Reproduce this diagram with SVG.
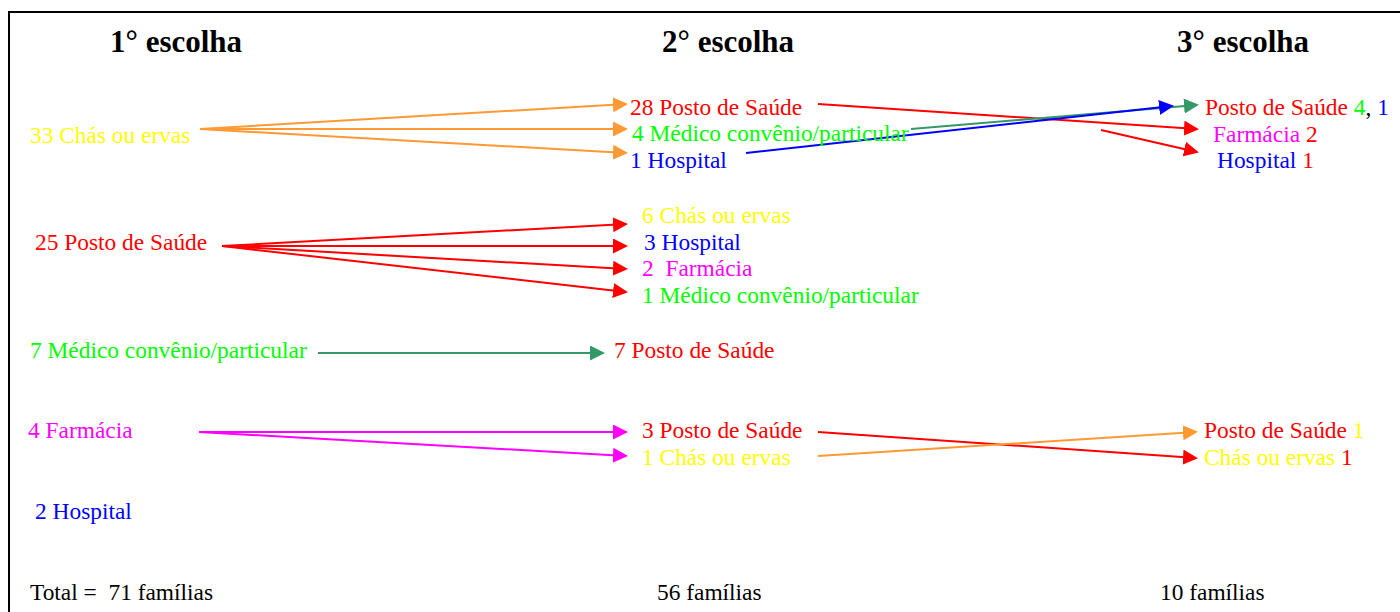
<svg xmlns="http://www.w3.org/2000/svg" width="1400" height="612" viewBox="0 0 1400 612">
<style>
text{font-family:"Liberation Serif","Times New Roman",serif;font-size:23.4px;white-space:pre}
.h{font-size:31px;font-weight:bold;fill:#000}
.k{fill:#000}.r{fill:#FF0000}.g{fill:#00FF00}.b{fill:#0000FF}.m{fill:#FF00FF}.y{fill:#FFFF00}
.c{fill:none;stroke-width:2}
.co{stroke:#FF9933}.cr{stroke:#FF0000}.cb{stroke:#0000FF}.cg{stroke:#339966}.cm{stroke:#FF00FF}
</style>
<defs>
<marker id="ao" markerUnits="userSpaceOnUse" markerWidth="15" markerHeight="15" refX="13" refY="7.5" orient="auto"><path d="M0,0 L15,7.5 L0,15 z" fill="#FF9933"/></marker>
<marker id="ar" markerUnits="userSpaceOnUse" markerWidth="15" markerHeight="15" refX="13" refY="7.5" orient="auto"><path d="M0,0 L15,7.5 L0,15 z" fill="#FF0000"/></marker>
<marker id="ab" markerUnits="userSpaceOnUse" markerWidth="15" markerHeight="15" refX="13" refY="7.5" orient="auto"><path d="M0,0 L15,7.5 L0,15 z" fill="#0000FF"/></marker>
<marker id="ag" markerUnits="userSpaceOnUse" markerWidth="15" markerHeight="15" refX="13" refY="7.5" orient="auto"><path d="M0,0 L15,7.5 L0,15 z" fill="#339966"/></marker>
<marker id="am" markerUnits="userSpaceOnUse" markerWidth="15" markerHeight="15" refX="13" refY="7.5" orient="auto"><path d="M0,0 L15,7.5 L0,15 z" fill="#FF00FF"/></marker>
</defs>
<rect width="1400" height="612" fill="#fff"/>
<path d="M9,612 L9,12 L1400,12" fill="none" stroke="#000" stroke-width="2"/>
<g id="headings">
<text class="h" x="110" y="52">1° escolha</text>
<text class="h" x="662" y="52">2° escolha</text>
<text class="h" x="1177" y="52">3° escolha</text>
</g>
<g id="connectors">
<line class="c co" x1="200" y1="129" x2="626" y2="104" marker-end="url(#ao)"/>
<line class="c co" x1="200" y1="129" x2="626" y2="129" marker-end="url(#ao)"/>
<line class="c co" x1="200" y1="129" x2="626" y2="153" marker-end="url(#ao)"/>
<line class="c cr" x1="222" y1="246" x2="626" y2="224" marker-end="url(#ar)"/>
<line class="c cr" x1="222" y1="246" x2="626" y2="246" marker-end="url(#ar)"/>
<line class="c cr" x1="222" y1="246" x2="626" y2="269" marker-end="url(#ar)"/>
<line class="c cr" x1="222" y1="246" x2="626" y2="292" marker-end="url(#ar)"/>
<line class="c cg" x1="318" y1="353" x2="603" y2="353" marker-end="url(#ag)"/>
<line class="c cm" x1="199" y1="432" x2="626" y2="432" marker-end="url(#am)"/>
<line class="c cm" x1="199" y1="432" x2="626" y2="456" marker-end="url(#am)"/>
<line class="c cr" x1="818" y1="104" x2="1197" y2="129" marker-end="url(#ar)"/>
<line class="c cr" x1="1101" y1="130" x2="1197" y2="152" marker-end="url(#ar)"/>
<line class="c cg" x1="911" y1="129" x2="1197" y2="105" marker-end="url(#ag)"/>
<line class="c cb" x1="746" y1="153" x2="1172" y2="106" marker-end="url(#ab)"/>
<line class="c cr" x1="818" y1="432" x2="1196" y2="458" marker-end="url(#ar)"/>
<line class="c co" x1="818" y1="456" x2="1196" y2="432" marker-end="url(#ao)"/>
</g>
<g id="c1-chas"><text class="y" x="30" y="143">33 Chás ou ervas</text></g>
<g id="c1-posto"><text class="r" x="35" y="250">25 Posto de Saúde</text></g>
<g id="c1-medico"><text class="g" x="30" y="358">7 Médico convênio/particular</text></g>
<g id="c1-farmacia"><text class="m" x="28" y="438">4 Farmácia</text></g>
<g id="c1-hospital"><text class="b" x="35" y="519">2 Hospital</text></g>
<g id="c1-total"><text class="k" x="30" y="600">Total =  71 famílias</text></g>
<g id="c2-a-posto"><text class="r" x="630" y="115">28 Posto de Saúde</text></g>
<g id="c2-a-medico"><text class="g" x="632" y="141">4 Médico convênio/particular</text></g>
<g id="c2-a-hospital"><text class="b" x="630" y="168">1 Hospital</text></g>
<g id="c2-b-chas"><text class="y" x="642" y="223">6 Chás ou ervas</text></g>
<g id="c2-b-hospital"><text class="b" x="644" y="250">3 Hospital</text></g>
<g id="c2-b-farmacia"><text class="m" x="642" y="276">2  Farmácia</text></g>
<g id="c2-b-medico"><text class="g" x="642" y="303">1 Médico convênio/particular</text></g>
<g id="c2-c-posto"><text class="r" x="614" y="358">7 Posto de Saúde</text></g>
<g id="c2-d-posto"><text class="r" x="642" y="438">3 Posto de Saúde</text></g>
<g id="c2-d-chas"><text class="y" x="642" y="465">1 Chás ou ervas</text></g>
<g id="c2-total"><text class="k" x="657" y="600">56 famílias</text></g>
<g id="c3-a-posto"><text x="1205" y="115"><tspan class="r">Posto de Saúde </tspan><tspan class="g">4</tspan><tspan class="k">, </tspan><tspan class="b">1</tspan></text></g>
<g id="c3-a-farmacia"><text x="1213" y="142"><tspan class="m">Farmácia </tspan><tspan class="r">2</tspan></text></g>
<g id="c3-a-hospital"><text x="1217" y="168"><tspan class="b">Hospital </tspan><tspan class="r">1</tspan></text></g>
<g id="c3-d-posto"><text x="1204" y="438"><tspan class="r">Posto de Saúde </tspan><tspan class="y">1</tspan></text></g>
<g id="c3-d-chas"><text x="1204" y="465"><tspan class="y">Chás ou ervas </tspan><tspan class="r">1</tspan></text></g>
<g id="c3-total"><text class="k" x="1160" y="600">10 famílias</text></g>
</svg>
